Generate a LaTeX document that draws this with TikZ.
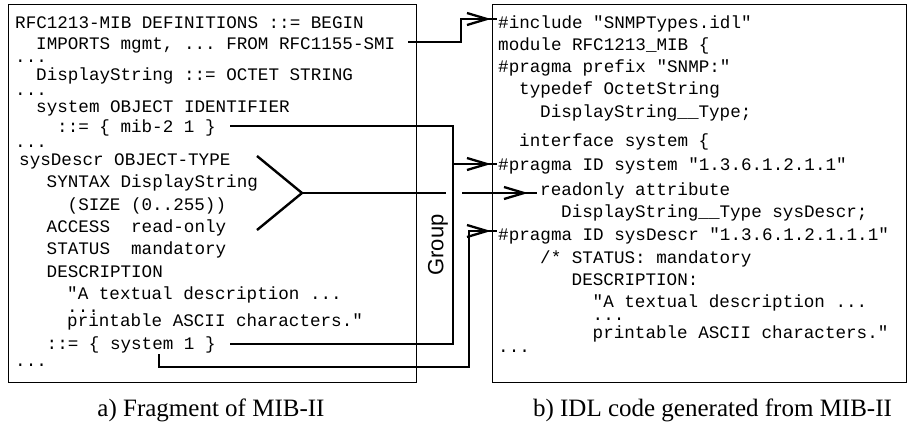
\documentclass[tikz,border=0pt]{standalone}
\usepackage{fontspec}
\setmainfont{Liberation Serif}
\setmonofont{Liberation Mono}
\newfontfamily\grpfont{Liberation Sans}
\usetikzlibrary{arrows.meta}
\begin{document}
\begin{tikzpicture}[x=1pt,y=-1pt,
  code/.style={anchor=base west, inner sep=0pt, font=\ttfamily\fontsize{17.6}{20}\selectfont},
  frame/.style={draw, line width=1.1pt, anchor=north west, inner sep=0pt},
  conn/.style={line width=2.4pt},
  headarrow/.style={line width=2.4pt, -{Straight Barb[length=20pt,width=12pt,line width=2.3pt]}},
  captext/.style={anchor=base, inner sep=0pt, font=\fontsize{25}{28}\selectfont}]
\useasboundingbox (0,0) rectangle (910,421);
\fill[white] (0,0) rectangle (910,421);

% frames
\node[frame, minimum width=408pt, minimum height=378pt] (lbox) at (8,4) {};
\node[frame, minimum width=414pt, minimum height=378pt] (rbox) at (492,4) {};

% left text
\node[code] (l1)  at (15,28)   {RFC1213-MIB DEFINITIONS ::= BEGIN};
\node[code] (l2)  at (36,49)   {IMPORTS mgmt, ... FROM RFC1155-SMI};
\node[code] (l3)  at (15,62)   {...};
\node[code] (l4)  at (36,80)   {DisplayString ::= OCTET STRING};
\node[code] (l5)  at (15,95)   {...};
\node[code] (l6)  at (36,112)  {system OBJECT IDENTIFIER};
\node[code] (l7)  at (57,132)  {::= \{ mib-2 1 \}};
\node[code] (l8)  at (15,147)  {...};
\node[code] (l9)  at (19,165)  {sysDescr OBJECT-TYPE};
\node[code] (l10) at (46.5,187) {SYNTAX DisplayString};
\node[code] (l11) at (67.5,210) {(SIZE (0..255))};
\node[code] (l12) at (46.5,232) {ACCESS\ \ read-only};
\node[code] (l13) at (46.5,254) {STATUS\ \ mandatory};
\node[code] (l14) at (46.5,277) {DESCRIPTION};
\node[code] (l15) at (67,299)  {"A textual description ...};
\node[code] (l16) at (67,312)  {...};
\node[code] (l17) at (67,326)  {printable ASCII characters."};
\node[code] (l18) at (46.5,349) {::= \{ system 1 \}};
\node[code] (l19) at (15,366)  {...};

% right text
\node[code] (r1)  at (498,28)   {\#include "SNMPTypes.idl"};
\node[code] (r2)  at (498,50)   {module RFC1213\_MIB \{};
\node[code] (r3)  at (498,72)   {\#pragma prefix "SNMP:"};
\node[code] (r4)  at (519,94)   {typedef OctetString};
\node[code] (r5)  at (540,117)  {DisplayString\_\_Type;};
\node[code] (r6)  at (519,146)  {interface system \{};
\node[code] (r7)  at (498,170)  {\#pragma ID system "1.3.6.1.2.1.1"};
\node[code] (r8)  at (540,195)  {readonly attribute};
\node[code] (r9)  at (561,217)  {DisplayString\_\_Type sysDescr;};
\node[code] (r10) at (498,240)  {\#pragma ID sysDescr "1.3.6.1.2.1.1.1"};
\node[code] (r11) at (540,263)  {/* STATUS: mandatory};
\node[code] (r12) at (571.5,285) {DESCRIPTION:};
\node[code] (r13) at (592.5,307) {"A textual description ...};
\node[code] (r14) at (592.5,320) {...};
\node[code] (r15) at (592.5,338) {printable ASCII characters."};
\node[code] (r16) at (498,352)  {...};

% group label
\node[rotate=90, inner sep=0pt, font=\grpfont\fontsize{22}{24}\selectfont] (grp) at (438,245) {Group};

% captions
\node[captext] (capa) at (211,416) {a) Fragment of MIB-II};
\node[captext] (capb) at (712.5,416) {b) IDL code generated from MIB-II};

% connector coordinates
\coordinate (c1s) at (408,42);
\coordinate (c1a) at (461,42);
\coordinate (c1b) at (461,19);
\coordinate (c1t) at (491,19);
\coordinate (c1e) at (497,19);

\coordinate (c2s) at (230,126);
\coordinate (c2a) at (453,126);
\coordinate (c2b) at (453,164);
\coordinate (c2t) at (491,164);
\coordinate (c2e) at (497,164);
\coordinate (c5s) at (230,344);
\coordinate (c5a) at (453,344);

\coordinate (g1) at (257,156);
\coordinate (g2) at (257,230);
\coordinate (gm) at (302,193);
\coordinate (gx1) at (446,193);
\coordinate (gx2) at (462,193);
\coordinate (gt) at (528,193);
\coordinate (ge) at (537,193);

\coordinate (c4s) at (159,354);
\coordinate (c4a) at (159,367);
\coordinate (c4b) at (469,367);
\coordinate (c4c) at (469,231);
\coordinate (c4t) at (491,231);
\coordinate (c4e) at (497,231);

% connectors
\draw[conn] (c1s) -- (c1a) -- (c1b) -- (c1e);
\draw[headarrow] (c1b) -- (c1t);
\draw[conn] (c2s) -- (c2a) -- (c2b) -- (c2e);
\draw[headarrow] (c2b) -- (c2t);
\draw[conn] (c5s) -- (c5a) -- (c2b);
\draw[conn] (g1) -- (gm) -- (g2);
\draw[conn] (gm) -- (gx1);
\draw[conn] (gx2) -- (ge);
\draw[headarrow] (gx2) -- (gt);
\draw[conn] (c4s) -- (c4a) -- (c4b) -- (c4c) -- (c4e);
\draw[headarrow] (c4c) -- (c4t);
\end{tikzpicture}
\end{document}
